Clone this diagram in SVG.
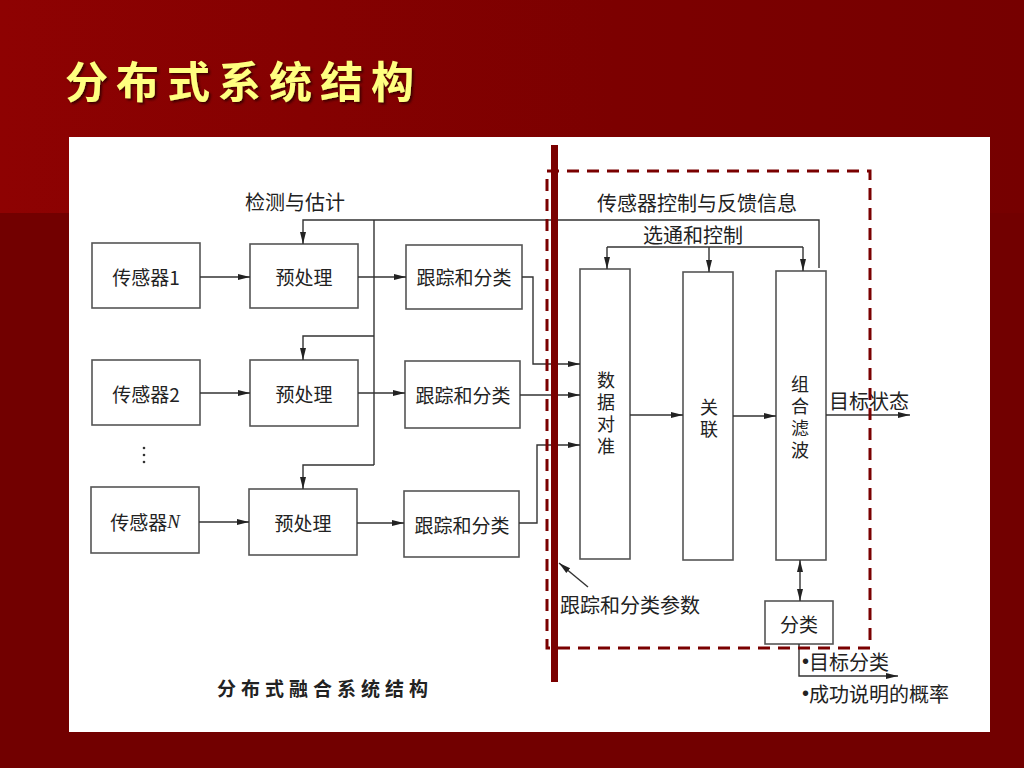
<svg xmlns="http://www.w3.org/2000/svg" width="1024" height="768" viewBox="0 0 1024 768">
<defs>
<linearGradient id="topg" x1="0" y1="0" x2="1" y2="0">
<stop offset="0" stop-color="#8e0202"/>
<stop offset="0.6" stop-color="#7c0000"/>
<stop offset="1" stop-color="#760000"/>
</linearGradient>
<filter id="sh" x="-5%" y="-5%" width="110%" height="120%">
<feDropShadow dx="2" dy="2" stdDeviation="1" flood-color="#300000" flood-opacity="0.8"/>
</filter>
<marker id="ah" viewBox="0 0 12 8" refX="12" refY="4" markerWidth="12" markerHeight="8" markerUnits="userSpaceOnUse" orient="auto">
<path d="M0,1 L12,4 L0,7 Z" fill="#222"/>
</marker>
<marker id="ahs" viewBox="0 0 12 8" refX="0" refY="4" markerWidth="12" markerHeight="8" markerUnits="userSpaceOnUse" orient="auto">
<path d="M12,1 L0,4 L12,7 Z" fill="#222"/>
</marker>
<style>
.box{fill:#fff;stroke:#555;stroke-width:1.6}
.t{font-family:"Noto Sans CJK SC","Liberation Sans",sans-serif;font-size:19px;fill:#222;text-anchor:middle;dominant-baseline:central}
.lb{font-family:"Noto Sans CJK SC","Liberation Sans",sans-serif;font-size:20px;fill:#222;text-anchor:middle;dominant-baseline:central}
.v{font-family:"Noto Sans CJK SC","Liberation Sans",sans-serif;font-size:18px;fill:#222;writing-mode:vertical-rl;letter-spacing:4px}
.ts{font-family:"Noto Sans CJK SC","Liberation Sans",sans-serif;font-size:20px;fill:#222;dominant-baseline:central}
.cap{font-family:"Noto Sans CJK SC","Liberation Sans",sans-serif;font-size:19px;font-weight:bold;letter-spacing:5px;fill:#222;dominant-baseline:central}
.b{font-family:"Liberation Sans",sans-serif}
.ln{fill:none;stroke:#333;stroke-width:1.4}
.arr{fill:none;stroke:#333;stroke-width:1.4;marker-end:url(#ah)}
</style>
</defs>
<rect width="1024" height="768" fill="#720000"/>
<rect width="1024" height="213" fill="url(#topg)"/>
<text x="65" y="98" font-family="Noto Sans CJK SC,sans-serif" font-size="43" font-weight="bold" letter-spacing="8" fill="#ffff80" filter="url(#sh)">分布式系统结构</text>
<rect x="69" y="137" width="921" height="595" fill="#fff"/>

<g id="labels">
<text class="lb" x="295" y="201">检测与估计</text>
<text class="lb" x="697" y="202">传感器控制与反馈信息</text>
<text class="lb" x="693" y="234">选通和控制</text>
<text class="lb" x="869" y="400">目标状态</text>
<text class="ts" x="560" y="604">跟踪和分类参数</text>
<text class="ts" x="802" y="661"><tspan class="b">•</tspan>目标分类</text>
<text class="ts" x="802" y="693"><tspan class="b">•</tspan>成功说明的概率</text>
<text class="cap" x="217" y="687">分布式融合系统结构</text>
<circle cx="144" cy="448" r="1.3" fill="#333"/>
<circle cx="144" cy="455" r="1.3" fill="#333"/>
<circle cx="144" cy="462" r="1.3" fill="#333"/>
</g>

<g id="sensor1"><rect class="box" x="92" y="243" width="108" height="65"/><text class="t" x="146" y="276">传感器1</text></g>
<g id="pre1"><rect class="box" x="250" y="244" width="108" height="64"/><text class="t" x="304" y="276">预处理</text></g>
<g id="track1"><rect class="box" x="406" y="245" width="116" height="64"/><text class="t" x="464" y="276">跟踪和分类</text></g>

<g id="sensor2"><rect class="box" x="92" y="360" width="108" height="65"/><text class="t" x="146" y="393">传感器2</text></g>
<g id="pre2"><rect class="box" x="250" y="360" width="108" height="66"/><text class="t" x="304" y="393">预处理</text></g>
<g id="track2"><rect class="box" x="405" y="361" width="115" height="67"/><text class="t" x="463" y="394">跟踪和分类</text></g>

<g id="sensorN"><rect class="box" x="91" y="487" width="108" height="66"/><text class="t" x="145" y="521">传感器<tspan font-family="Liberation Serif,serif" font-style="italic">N</tspan></text></g>
<g id="preN"><rect class="box" x="249" y="489" width="108" height="66"/><text class="t" x="303" y="522">预处理</text></g>
<g id="trackN"><rect class="box" x="404" y="491" width="115" height="66"/><text class="t" x="462" y="524">跟踪和分类</text></g>

<g id="align"><rect class="box" x="580" y="269" width="50" height="290"/>
<text class="v" x="606" y="371">数据对准</text></g>
<g id="assoc"><rect class="box" x="683" y="272" width="50" height="288"/>
<text class="v" x="709" y="398">关联</text></g>
<g id="filter"><rect class="box" x="776" y="271" width="50" height="289"/>
<text class="v" x="800" y="375">组合滤波</text></g>
<g id="classify"><rect class="box" x="765" y="601" width="68" height="43"/><text class="t" x="799" y="623">分类</text></g>

<g id="connectors">
<path class="arr" d="M200,277 H250"/>
<path class="arr" d="M358,277 H406"/>
<path class="arr" d="M200,393 H250"/>
<path class="arr" d="M358,393 H405"/>
<path class="arr" d="M199,522 H249"/>
<path class="arr" d="M357,523 H404"/>
<path class="ln" d="M374,220 V465"/>
<path class="arr" d="M819,268 V220 H303 V244"/>
<path class="arr" d="M374,336 H303 V360"/>
<path class="arr" d="M374,465 H303 V489"/>
<path class="arr" d="M522,277 H533 V364 H580"/>
<path class="arr" d="M520,395 H580"/>
<path class="arr" d="M519,523 H537 V445 H580"/>
<path class="ln" d="M607,247 H803"/>
<path class="arr" d="M607,247 V269"/>
<path class="arr" d="M709,247 V272"/>
<path class="arr" d="M803,247 V271"/>
<path class="arr" d="M630,415 H683"/>
<path class="arr" d="M733,416 H776"/>
<path class="arr" d="M826,415 H910"/>
<path class="arr" d="M800,560 V601" marker-start="url(#ahs)"/>
<path class="arr" d="M799,644 V676 H898"/>
<path class="arr" d="M588,587 L559,563"/>
</g>

<g id="fusion-boundary">
<rect x="547" y="171" width="323" height="477" fill="none" stroke="#7a0000" stroke-width="3" stroke-dasharray="12,8"/>
<rect x="551" y="145" width="7" height="537" fill="#7a0000"/>
</g>
</svg>
